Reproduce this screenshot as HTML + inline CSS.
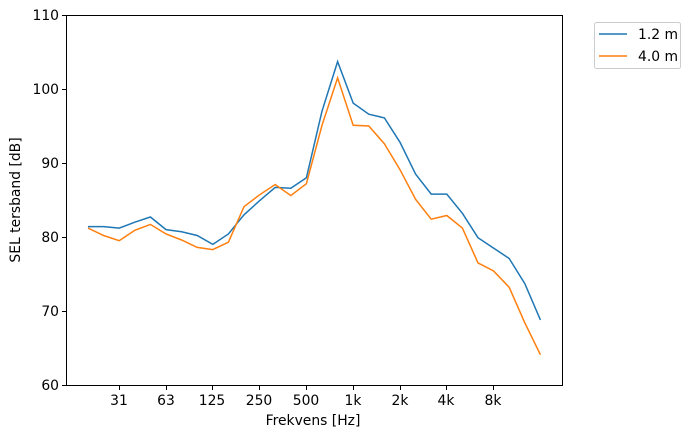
<!DOCTYPE html>
<html><head><meta charset="utf-8"><style>
body{margin:0;background:#fff;}
svg text{font-family:"DejaVu Sans","Liberation Sans",sans-serif;font-size:13.9px;fill:#000;}
</style></head><body>
<svg width="693" height="438" xmlns="http://www.w3.org/2000/svg">
<rect width="693" height="438" fill="#fff"/>
<rect x="66.5" y="15.5" width="496" height="370" fill="none" stroke="#000" stroke-width="1"/>
<g stroke="#000" stroke-width="1">
<line x1="62" x2="66" y1="385.5" y2="385.5"/><line x1="62" x2="66" y1="311.5" y2="311.5"/><line x1="62" x2="66" y1="237.5" y2="237.5"/><line x1="62" x2="66" y1="163.5" y2="163.5"/><line x1="62" x2="66" y1="89.5" y2="89.5"/><line x1="62" x2="66" y1="15.5" y2="15.5"/>
<line x1="119.5" x2="119.5" y1="386" y2="390"/><line x1="166.5" x2="166.5" y1="386" y2="390"/><line x1="212.5" x2="212.5" y1="386" y2="390"/><line x1="259.5" x2="259.5" y1="386" y2="390"/><line x1="306.5" x2="306.5" y1="386" y2="390"/><line x1="353.5" x2="353.5" y1="386" y2="390"/><line x1="400.5" x2="400.5" y1="386" y2="390"/><line x1="446.5" x2="446.5" y1="386" y2="390"/><line x1="493.5" x2="493.5" y1="386" y2="390"/>
</g>
<g text-anchor="end">
<text x="59" y="390">60</text><text x="59" y="316">70</text><text x="59" y="242">80</text><text x="59" y="168">90</text><text x="59" y="94">100</text><text x="59" y="20">110</text>
</g>
<g text-anchor="middle">
<text x="119" y="405">31</text><text x="166" y="405">63</text><text x="212" y="405">125</text><text x="259" y="405">250</text><text x="306" y="405">500</text><text x="353" y="405">1k</text><text x="400" y="405">2k</text><text x="446" y="405">4k</text><text x="493" y="405">8k</text>
<text x="313" y="425">Frekvens [Hz]</text>
</g>
<text transform="translate(20,200) rotate(-90)" text-anchor="middle">SEL tersband [dB]</text>
<polyline id="b" fill="none" stroke="#1f77b4" stroke-width="1.5"/>
<polyline id="o" fill="none" stroke="#ff7f0e" stroke-width="1.5"/>
<rect x="594.5" y="22.5" width="86" height="46" rx="2" fill="#fff" stroke="#ccc"/>
<line x1="599" x2="627" y1="34" y2="34" stroke="#1f77b4" stroke-width="1.5"/>
<line x1="599" x2="627" y1="56" y2="56" stroke="#ff7f0e" stroke-width="1.5"/>
<text x="638" y="39">1.2 m</text><text x="638" y="61">4.0 m</text>
</svg>
<script>
var B=[81.4,81.4,81.2,82,82.7,81,80.7,80.2,79,80.4,83,84.9,86.7,86.6,88,97,103.7,98.1,96.6,96.1,92.8,88.5,85.8,85.8,83.2,79.9,78.5,77.1,73.7,68.8];
var O=[81.2,80.2,79.5,80.9,81.7,80.4,79.6,78.6,78.3,79.3,84.1,85.7,87.1,85.6,87.2,95.1,101.5,95.1,95,92.6,89.1,85.1,82.4,82.9,81.2,76.5,75.4,73.2,68.4,64.1];
function p(a){return a.map(function(v,i){return (88+i*15.6).toFixed(1)+","+(385-(v-60)*7.4).toFixed(1)}).join(" ")}
document.getElementById("b").setAttribute("points",p(B));
document.getElementById("o").setAttribute("points",p(O));
</script>
</body></html>
